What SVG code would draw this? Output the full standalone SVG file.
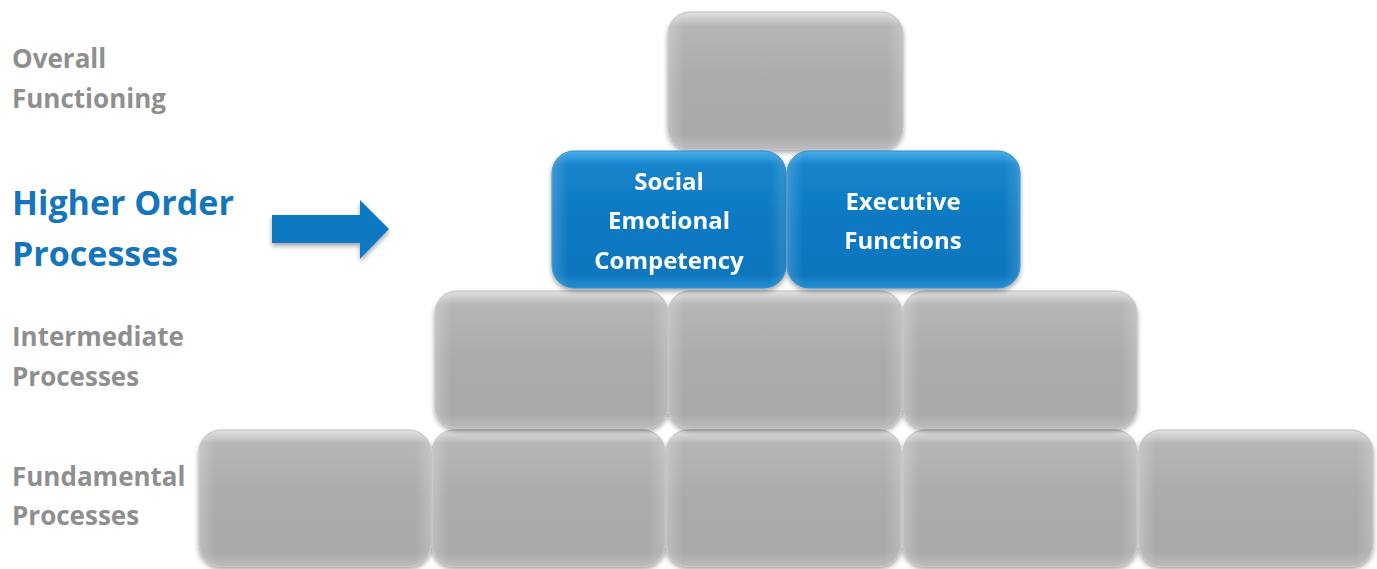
<svg xmlns="http://www.w3.org/2000/svg" width="1377" height="569" viewBox="0 0 1377 569">
<defs>
<style>
.lbl{font-family:"Open Sans","DejaVu Sans",sans-serif;font-weight:bold;font-size:26px;fill:#8f8f8f}
.hi{font-family:"Open Sans","DejaVu Sans",sans-serif;font-weight:bold;font-size:34px;fill:#1475bd}
.bt{font-family:"Open Sans","DejaVu Sans",sans-serif;font-weight:bold;font-size:24px;fill:#ffffff;text-anchor:middle}
.g{fill:url(#gv);stroke:#bdbdbd;stroke-width:1}
.gh{fill:url(#gh)}
.b{fill:url(#bv);stroke:#2b8fd3;stroke-width:1}
.bh{fill:url(#bh)}
</style>
<linearGradient id="gv" x1="0" y1="0" x2="0" y2="1">
<stop offset="0" stop-color="#e2e2e2"/>
<stop offset="0.1" stop-color="#b6b6b6"/>
<stop offset="0.5" stop-color="#ababab"/>
<stop offset="0.9" stop-color="#a9a9a9"/>
<stop offset="1" stop-color="#bdbdbd"/>
</linearGradient>
<linearGradient id="gh" x1="0" y1="0" x2="1" y2="0">
<stop offset="0" stop-color="#ffffff" stop-opacity="0.25"/>
<stop offset="0.07" stop-color="#ffffff" stop-opacity="0"/>
<stop offset="0.93" stop-color="#ffffff" stop-opacity="0"/>
<stop offset="1" stop-color="#ffffff" stop-opacity="0.2"/>
</linearGradient>
<linearGradient id="bv" x1="0" y1="0" x2="0" y2="1">
<stop offset="0" stop-color="#49aeea"/>
<stop offset="0.1" stop-color="#1684cc"/>
<stop offset="0.5" stop-color="#0c79c2"/>
<stop offset="0.9" stop-color="#0a76bf"/>
<stop offset="1" stop-color="#2a8ed0"/>
</linearGradient>
<linearGradient id="bh" x1="0" y1="0" x2="1" y2="0">
<stop offset="0" stop-color="#ffffff" stop-opacity="0.18"/>
<stop offset="0.07" stop-color="#ffffff" stop-opacity="0"/>
<stop offset="0.93" stop-color="#ffffff" stop-opacity="0"/>
<stop offset="1" stop-color="#ffffff" stop-opacity="0.15"/>
</linearGradient>
<filter id="sh" x="-10%" y="-10%" width="120%" height="130%">
<feGaussianBlur in="SourceAlpha" stdDeviation="2.5"/>
<feOffset dx="0" dy="3" result="o"/>
<feComponentTransfer><feFuncA type="linear" slope="0.35"/></feComponentTransfer>
<feMerge><feMergeNode/><feMergeNode in="SourceGraphic"/></feMerge>
</filter>
</defs>

<g id="labels">
<text class="lbl" x="12" y="68">Overall</text>
<text class="lbl" x="12" y="108">Functioning</text>
<text class="hi" x="12" y="215">Higher Order</text>
<text class="hi" x="12" y="266">Processes</text>
<text class="lbl" x="12" y="346">Intermediate</text>
<text class="lbl" x="12" y="386">Processes</text>
<text class="lbl" x="12" y="486">Fundamental</text>
<text class="lbl" x="12" y="525">Processes</text>
</g>

<g id="connectors">
<path d="M272,215 H360 V200 L389,229 L360,259 V243 H272 Z" fill="#0c79c2" filter="url(#sh)"/>
</g>

<g id="node-top" filter="url(#sh)">
<rect class="g" x="668" y="12" width="235" height="137" rx="22"/>
<rect class="gh" x="668" y="12" width="235" height="137" rx="22"/>
</g>

<g id="node-row4" filter="url(#sh)">
<g id="f1"><rect class="g" x="199" y="430" width="232" height="136" rx="22"/><rect class="gh" x="199" y="430" width="232" height="136" rx="22"/></g>
<g id="f2"><rect class="g" x="432" y="430" width="233" height="136" rx="22"/><rect class="gh" x="432" y="430" width="233" height="136" rx="22"/></g>
<g id="f3"><rect class="g" x="666" y="430" width="235" height="136" rx="22"/><rect class="gh" x="666" y="430" width="235" height="136" rx="22"/></g>
<g id="f4"><rect class="g" x="903" y="430" width="234" height="136" rx="22"/><rect class="gh" x="903" y="430" width="234" height="136" rx="22"/></g>
<g id="f5"><rect class="g" x="1139" y="430" width="234" height="136" rx="22"/><rect class="gh" x="1139" y="430" width="234" height="136" rx="22"/></g>
</g>

<g id="node-row3" filter="url(#sh)">
<g id="i1"><rect class="g" x="435" y="291" width="233" height="137" rx="22"/><rect class="gh" x="435" y="291" width="233" height="137" rx="22"/></g>
<g id="i2"><rect class="g" x="668" y="291" width="234" height="137" rx="22"/><rect class="gh" x="668" y="291" width="234" height="137" rx="22"/></g>
<g id="i3"><rect class="g" x="903" y="291" width="234" height="137" rx="22"/><rect class="gh" x="903" y="291" width="234" height="137" rx="22"/></g>
</g>

<g id="node-social" filter="url(#sh)">
<rect class="b" x="552" y="151" width="234" height="137" rx="22"/>
<rect class="bh" x="552" y="151" width="234" height="137" rx="22"/>
<text class="bt" x="669" y="190">Social</text>
<text class="bt" x="669" y="229">Emotional</text>
<text class="bt" x="669" y="269">Competency</text>
</g>

<g id="node-executive" filter="url(#sh)">
<rect class="b" x="787" y="151" width="233" height="137" rx="22"/>
<rect class="bh" x="787" y="151" width="233" height="137" rx="22"/>
<text class="bt" x="903" y="210">Executive</text>
<text class="bt" x="903" y="249">Functions</text>
</g>
</svg>
